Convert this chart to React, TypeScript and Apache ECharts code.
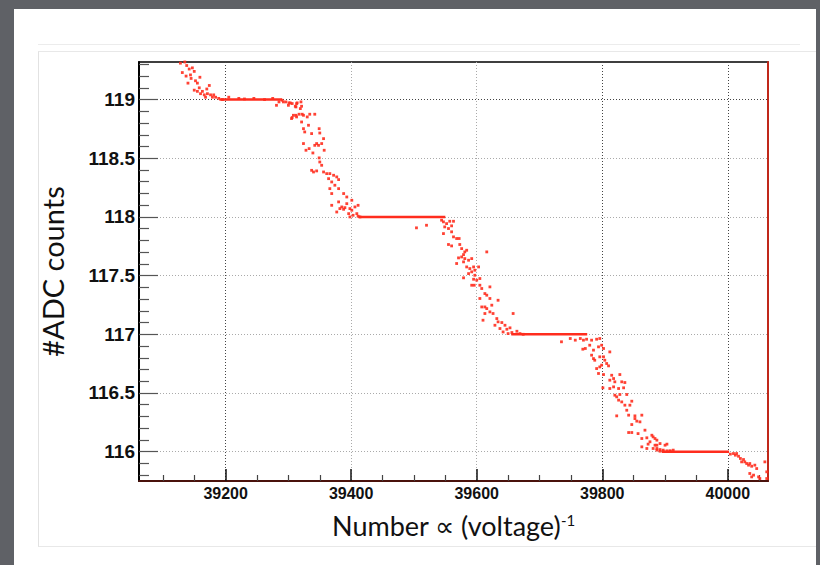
import React, { useEffect, useRef } from "react";
import * as echarts from "echarts";

const xRange = [39062, 40064];
const yRange = [115.75, 119.32];
const xMajorTicks = [39200, 39400, 39600, 39800, 40000];
const xMinorTicks = [39100, 39150, 39250, 39300, 39350, 39450, 39500, 39550, 39650, 39700, 39750, 39850, 39900, 39950, 40050];
const yMajorTicks = [116, 116.5, 117, 117.5, 118, 118.5, 119];
const yMinorTicks = [
  115.8, 115.9, 116.1, 116.2, 116.3, 116.4, 116.6, 116.7, 116.8, 116.9,
  117.1, 117.2, 117.3, 117.4, 117.6, 117.7, 117.8, 117.9,
  118.1, 118.2, 118.3, 118.4, 118.6, 118.7, 118.8, 118.9,
  119.1, 119.2, 119.3,
];

// flat steps (dense points forming a solid line)
const plateauY = [119, 118, 117, 116];
const plateauStart = [39190, 39412, 39655, 39895];
const plateauEnd = [39290, 39550, 39776, 40002];

// scattered points
const topLeftPts = [
  [39135, 119.32], [39128, 119.31], [39138, 119.29], [39131, 119.23], [39142, 119.26], [39147, 119.27],
  [39137, 119.2], [39144, 119.21], [39150, 119.24], [39140, 119.14], [39159, 119.19], [39155, 119.14],
  [39145, 119.18], [39152, 119.16], [39174, 119.12], [39170, 119.09], [39158, 119.1], [39150, 119.08],
  [39155, 119.07], [39163, 119.07], [39160, 119.05], [39166, 119.04], [39171, 119.05], [39176, 119.04],
  [39181, 119.04], [39168, 119.02], [39184, 119.02], [39179, 119.02], [39189, 119.01], [39195, 119.0],
  [39205, 119.02], [39221, 119.01], [39230, 119.005], [39245, 119.01], [39262, 119.0], [39275, 119.01],
];
const drop119Pts = [
  [39285, 118.98], [39290, 118.994], [39296, 118.98], [39301, 118.972], [39306, 118.966], [39312, 118.937],
  [39314, 118.972], [39320, 118.98], [39306, 118.847], [39312, 118.866], [39322, 118.875], [39330, 118.852],
  [39281, 118.951], [39292, 118.98], [39300, 118.951], [39303, 118.971], [39311, 118.943], [39313, 118.965],
  [39321, 118.943], [39319, 118.923], [39308, 118.866], [39313, 118.852], [39305, 118.838], [39317, 118.875],
  [39324, 118.866], [39334, 118.875], [39342, 118.875], [39321, 118.809], [39332, 118.781], [39324, 118.752],
  [39326, 118.724], [39337, 118.71], [39349, 118.752], [39350, 118.715], [39356, 118.667], [39342, 118.61],
  [39345, 118.625], [39348, 118.61], [39324, 118.625], [39328, 118.568], [39333, 118.582], [39339, 118.545],
  [39357, 118.568], [39353, 118.625], [39349, 118.503], [39350, 118.468], [39353, 118.44], [39337, 118.397],
  [39340, 118.383], [39345, 118.392], [39356, 118.383], [39361, 118.369], [39366, 118.369], [39372, 118.355],
  [39377, 118.341], [39364, 118.326], [39369, 118.298], [39380, 118.318], [39374, 118.27], [39366, 118.241],
  [39380, 118.241], [39369, 118.199], [39388, 118.199], [39393, 118.17], [39380, 118.128], [39393, 118.113],
  [39401, 118.142], [39369, 118.099], [39385, 118.085], [39382, 118.071], [39388, 118.065], [39390, 118.079],
  [39398, 118.071], [39401, 118.057], [39406, 118.085], [39411, 118.099], [39377, 118.042], [39396, 118.028],
  [39403, 118.014], [39409, 118.028], [39411, 118.006], [39398, 118.0], [39414, 118.0],
];
const drop118Pts = [
  [39504, 117.907], [39520, 117.929], [39544, 117.972], [39547, 117.958], [39552, 117.943], [39549, 117.915],
  [39557, 117.963], [39563, 117.963], [39560, 117.924], [39555, 117.901], [39547, 117.858], [39560, 117.873],
  [39563, 117.83], [39568, 117.816], [39572, 117.816], [39555, 117.765], [39560, 117.753], [39573, 117.765],
  [39576, 117.73], [39581, 117.702], [39579, 117.679], [39584, 117.716], [39571, 117.651], [39576, 117.659],
  [39581, 117.645], [39568, 117.603], [39579, 117.617], [39587, 117.631], [39592, 117.645], [39616, 117.702],
  [39584, 117.574], [39589, 117.56], [39595, 117.574], [39592, 117.532], [39597, 117.546], [39603, 117.574],
  [39587, 117.517], [39597, 117.503], [39579, 117.481], [39595, 117.469], [39600, 117.461], [39605, 117.475],
  [39592, 117.418], [39596, 117.418], [39605, 117.418], [39608, 117.39], [39621, 117.404], [39613, 117.347],
  [39616, 117.333], [39634, 117.29], [39621, 117.305], [39605, 117.305], [39608, 117.233], [39613, 117.233],
  [39624, 117.248], [39616, 117.219], [39621, 117.191], [39626, 117.177], [39613, 117.177], [39610, 117.12],
  [39632, 117.134], [39634, 117.106], [39640, 117.1], [39629, 117.077], [39645, 117.077], [39658, 117.177],
  [39637, 117.049], [39648, 117.043], [39653, 117.055], [39642, 117.02], [39650, 117.006], [39656, 117.015],
  [39664, 117.026], [39669, 117.006], [39674, 117.0],
];
const drop117Pts = [
  [39735, 116.936], [39749, 116.964], [39757, 116.95], [39765, 116.964], [39770, 116.95], [39775, 116.958],
  [39783, 116.95], [39791, 116.958], [39796, 116.964], [39773, 116.879], [39769, 116.873], [39780, 116.907],
  [39786, 116.865], [39794, 116.893], [39799, 116.907], [39802, 116.879], [39812, 116.85], [39783, 116.822],
  [39786, 116.793], [39788, 116.779], [39796, 116.808], [39802, 116.808], [39804, 116.779], [39799, 116.737],
  [39796, 116.722], [39807, 116.751], [39810, 116.731], [39791, 116.708], [39794, 116.666], [39802, 116.657],
  [39815, 116.651], [39828, 116.657], [39818, 116.623], [39812, 116.609], [39820, 116.595], [39831, 116.595],
  [39836, 116.589], [39801, 116.544], [39812, 116.538], [39818, 116.552], [39826, 116.538], [39834, 116.544],
  [39820, 116.481], [39823, 116.467], [39828, 116.487], [39839, 116.487], [39826, 116.439], [39831, 116.424],
  [39836, 116.396], [39844, 116.396], [39847, 116.43], [39839, 116.353], [39823, 116.305], [39842, 116.311],
  [39852, 116.305], [39863, 116.311], [39855, 116.26], [39860, 116.254], [39847, 116.231], [39852, 116.282],
  [39842, 116.163], [39847, 116.163], [39857, 116.154], [39868, 116.183], [39863, 116.112], [39871, 116.118],
  [39881, 116.126], [39887, 116.098], [39876, 116.084], [39873, 116.064], [39884, 116.055], [39892, 116.069],
  [39903, 116.064], [39863, 116.041], [39871, 116.027], [39881, 116.027], [39887, 116.013], [39892, 116.004],
  [39897, 116.004], [39908, 116.004],
];
const tailPts = [
  [39879, 116.14], [39884, 116.112], [39887, 116.055], [39900, 116.055], [39887, 116.027], [39892, 116.018],
  [39897, 116.013], [39903, 116.007], [39908, 116.007], [39913, 116.013], [40004, 115.979], [40009, 115.984],
  [40012, 115.97], [40014, 115.984], [40017, 115.961], [40020, 115.942], [40025, 115.933], [40022, 115.913],
  [40027, 115.913], [40030, 115.899], [40033, 115.885], [40035, 115.899], [40038, 115.876], [40043, 115.885],
  [40046, 115.856], [40035, 115.814], [40041, 115.8], [40049, 115.785], [40038, 115.785], [40051, 115.771],
  [40059, 115.913], [40062, 115.828], [40062, 115.771],
];

const RED = "#ff2d1e";
const tickFont = "'Liberation Sans', Arial, Helvetica, sans-serif";
const nameFont = "Lato, 'Open Sans', sans-serif";

function buildOption() {
  const plateauSeries = plateauY.map((y, i) => ({
    type: "line",
    xAxisIndex: 0,
    yAxisIndex: 0,
    data: [[plateauStart[i], y], [plateauEnd[i], y]],
    symbol: "none",
    lineStyle: { color: RED, width: 2.5 },
    silent: true,
    z: 3,
  }));
  const scatterData = [...topLeftPts, ...drop119Pts, ...drop118Pts, ...drop117Pts, ...tailPts];
  return {
    animation: false,
    grid: {
      left: 139, top: 62, right: 52, bottom: 84,
      show: true, borderColor: "#000", borderWidth: 1.5, backgroundColor: "transparent",
    },
    xAxis: [
      {
        type: "value", min: xRange[0], max: xRange[1], position: "bottom",
        axisLine: { show: true, lineStyle: { color: "#4a120c", width: 2 } },
        axisTick: { show: true, inside: true, length: 12, customValues: xMajorTicks, lineStyle: { color: "#111", width: 1.5 } },
        axisLabel: {
          customValues: xMajorTicks, margin: 4, fontSize: 16, fontWeight: "bold", color: "#111",
          fontFamily: tickFont, formatter: (v: number) => String(v),
        },
        splitLine: { show: true, lineStyle: { type: [1, 2], width: 1, color: ["#444", "#aaa", "#aaa", "#444", "#444"] } },
        name: "Number ∝ (voltage){sup|-1}",
        nameLocation: "middle",
        nameGap: 31,
        nameTextStyle: {
          fontFamily: nameFont, fontSize: 27, color: "#111",
          rich: { sup: { fontFamily: nameFont, fontSize: 15, color: "#111", verticalAlign: "top" } },
        },
      },
      {
        type: "value", min: xRange[0], max: xRange[1], position: "bottom",
        axisLine: { show: false },
        axisTick: { show: true, inside: true, length: 6, customValues: xMinorTicks, lineStyle: { color: "#444", width: 1.2 } },
        axisLabel: { show: false },
        splitLine: { show: false },
      },
    ],
    yAxis: [
      {
        type: "value", min: yRange[0], max: yRange[1], position: "left",
        axisLine: { show: true, lineStyle: { color: "#000", width: 2 } },
        axisTick: { show: true, inside: true, length: 19, customValues: yMajorTicks, lineStyle: { color: "#555", width: 1.2 } },
        axisLabel: {
          customValues: yMajorTicks, margin: 4, fontSize: 19, fontWeight: "bold", color: "#111",
          fontFamily: tickFont, formatter: (v: number) => String(v),
        },
        splitLine: { show: true, lineStyle: { type: [1, 2], width: 1, color: ["#aaa", "#aaa", "#aaa", "#aaa", "#aaa", "#aaa", "#444"] } },
        name: "#ADC counts",
        nameLocation: "middle",
        nameGap: 72,
        nameTextStyle: { fontFamily: nameFont, fontSize: 29, color: "#111" },
      },
      {
        type: "value", min: yRange[0], max: yRange[1], position: "left",
        axisLine: { show: false },
        axisTick: { show: true, inside: true, length: 10, customValues: yMinorTicks, lineStyle: { color: "#555", width: 1.2 } },
        axisLabel: { show: false },
        splitLine: { show: false },
      },
      {
        type: "value", min: yRange[0], max: yRange[1], position: "right",
        axisLine: { show: true, lineStyle: { color: "#c0281a", width: 2 } },
        axisTick: { show: false },
        axisLabel: { show: false },
        splitLine: { show: false },
      },
    ],
    series: [
      ...plateauSeries,
      {
        type: "scatter",
        xAxisIndex: 0,
        yAxisIndex: 0,
        data: scatterData,
        symbol: "rect",
        symbolSize: 2.8,
        itemStyle: { color: RED, opacity: 0.9 },
        silent: true,
        z: 4,
      },
    ],
  };
}

export default function App() {
  const ref = useRef<HTMLDivElement>(null);
  useEffect(() => {
    const chart = echarts.init(ref.current!, null, { renderer: "svg" });
    chart.setOption(buildOption() as any);
    return () => chart.dispose();
  }, []);
  return (
    <div style={{ position: "fixed", left: 0, top: 0, width: 820, height: 565, background: "#5f6166", overflow: "hidden" }}>
      <div style={{ position: "absolute", left: 14, top: 9, width: 802, height: 560, background: "#fff" }} />
      <div style={{ position: "absolute", left: 38, top: 44, width: 762, height: 0, borderTop: "1px solid #ececec" }} />
      <div style={{ position: "absolute", left: 38, top: 51, width: 777, height: 494, borderLeft: "1px solid #e2e2e2", borderTop: "1px solid #e8e8e8", borderBottom: "1px solid #e8e8e8" }} />
      <div ref={ref} style={{ position: "absolute", left: 0, top: 0, width: 820, height: 565 }} />
    </div>
  );
}
